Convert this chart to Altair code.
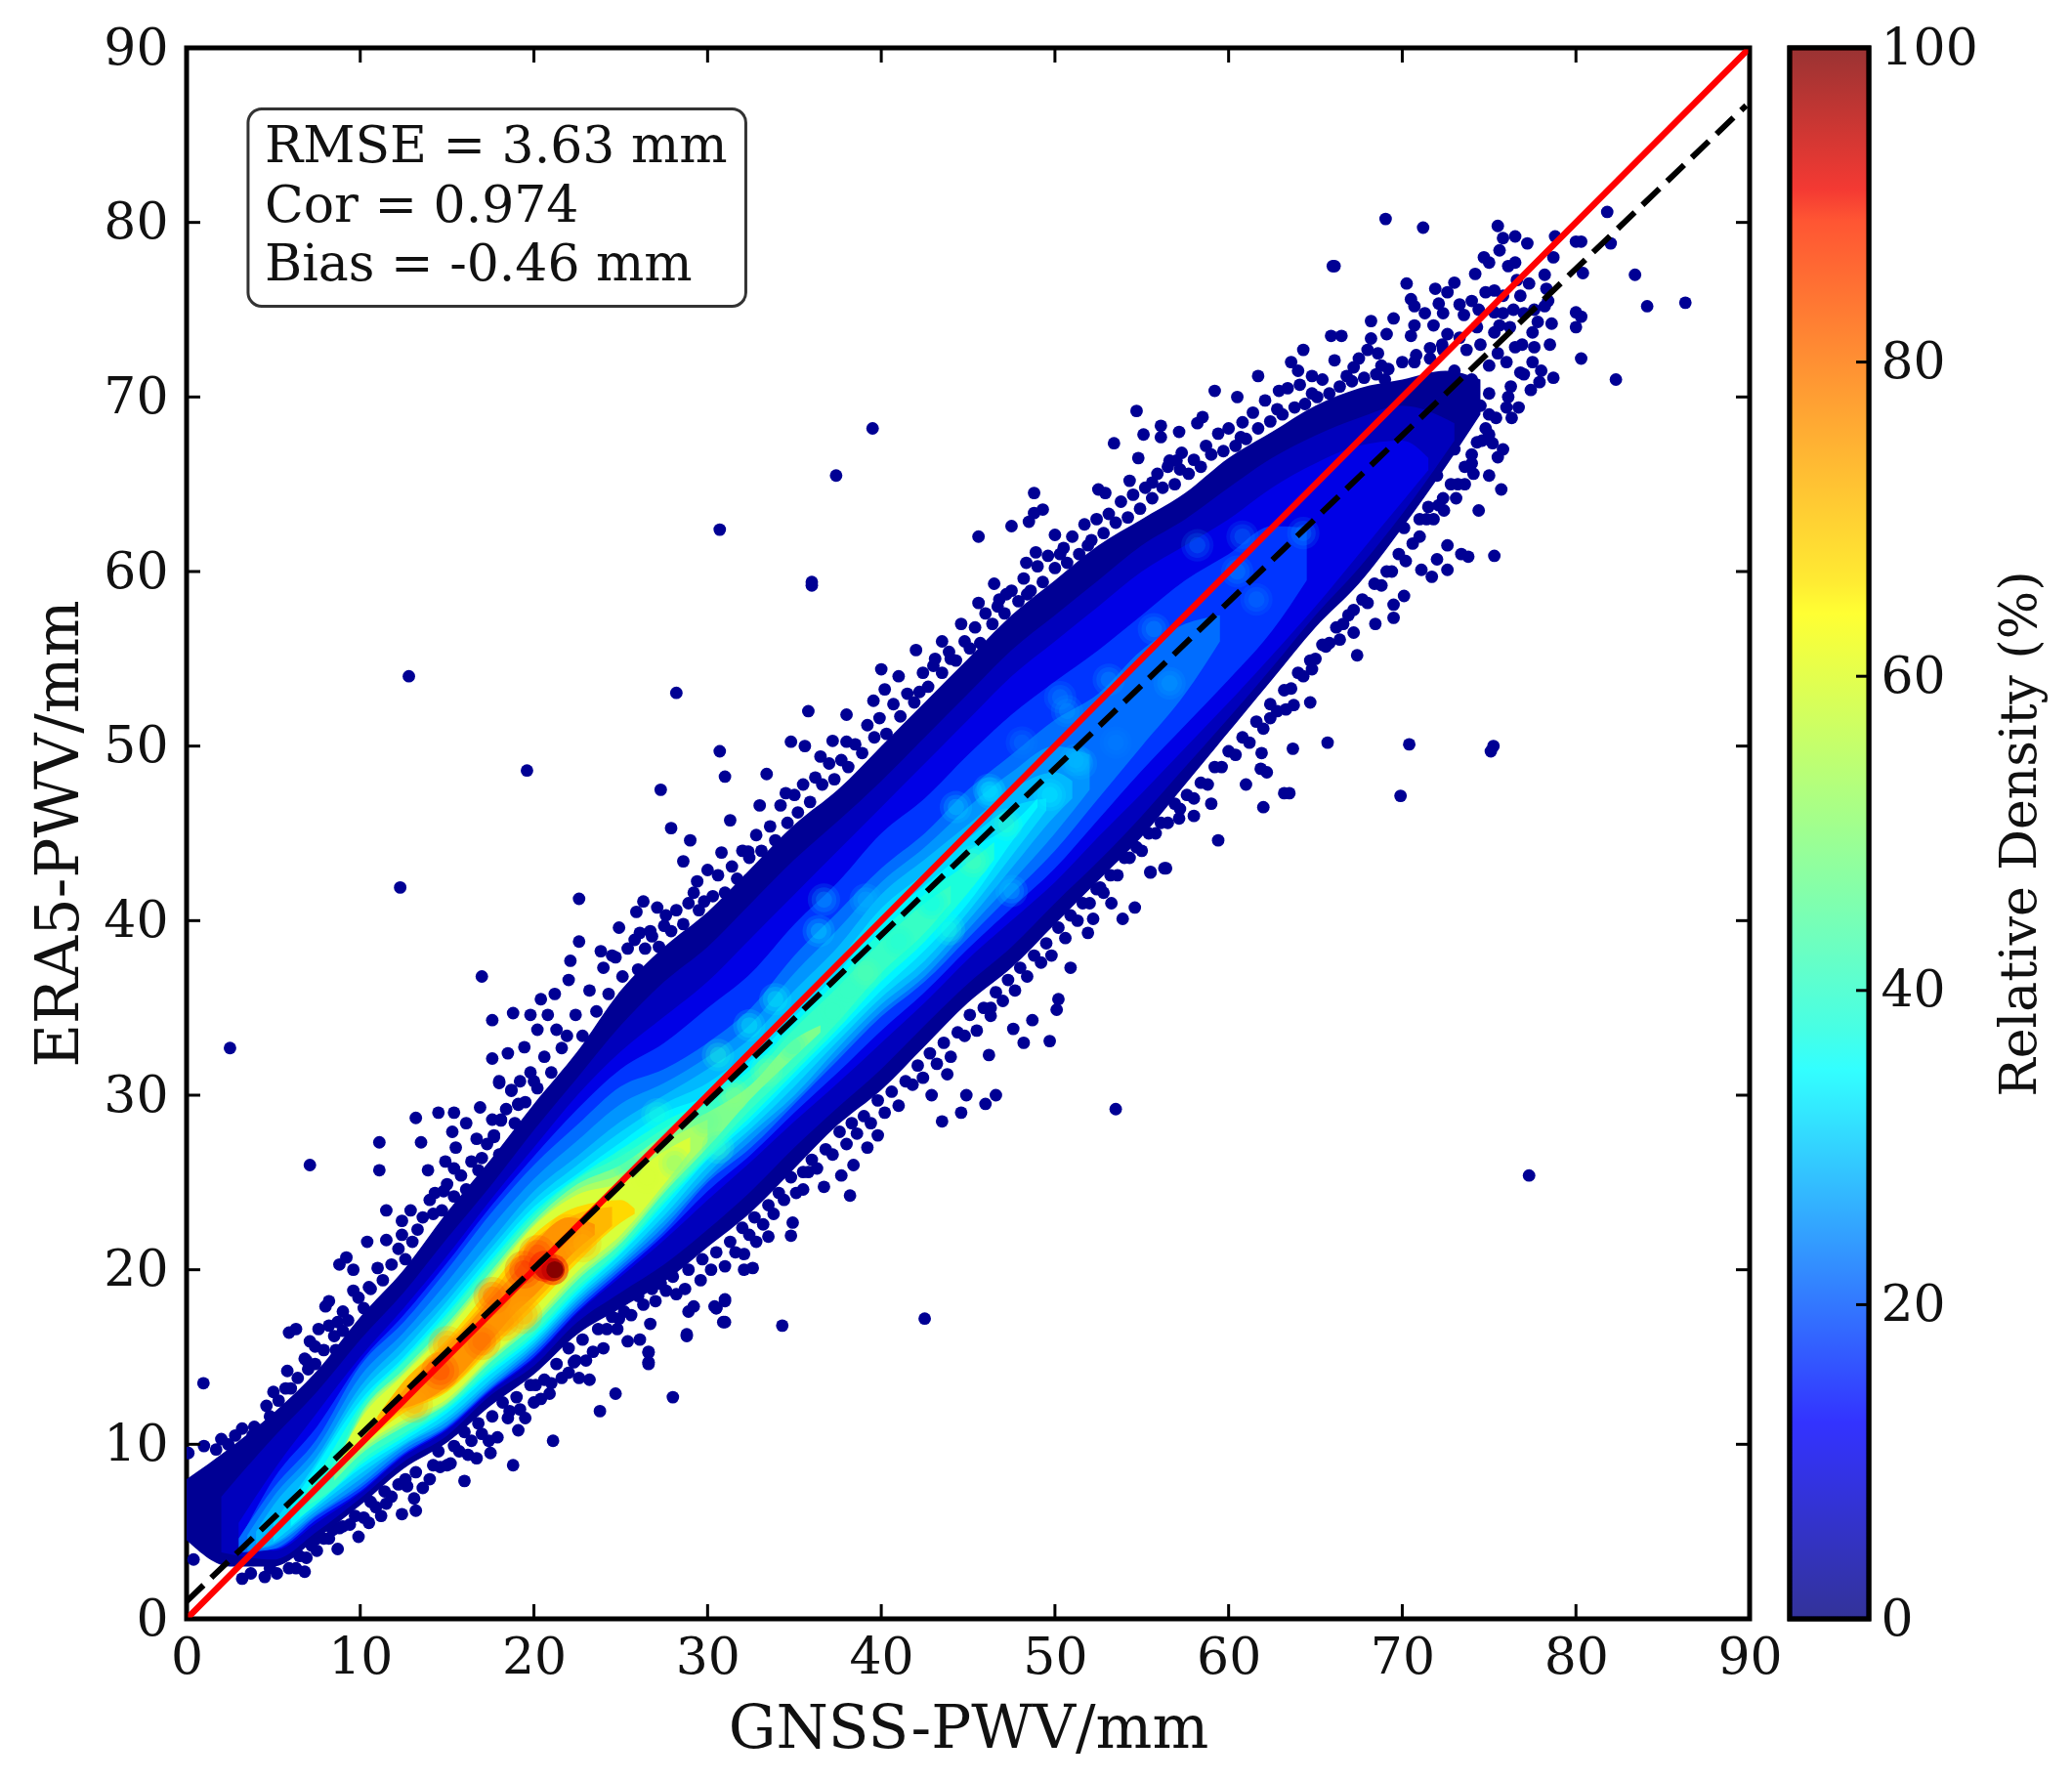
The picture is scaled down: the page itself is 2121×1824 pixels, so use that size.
import altair as alt
import pandas as pd

FONT = "DejaVu Serif"
ticks_main = [0, 10, 20, 30, 40, 50, 60, 70, 80, 90]
ticks_bar = [0, 20, 40, 60, 80, 100]
stats = ["RMSE = 3.63 mm", "Cor = 0.974", "Bias = -0.46 mm"]
stats_x = [4.5, 4.5, 4.5]
stats_y = [83.45, 80.05, 76.7]

jet_v = [0, 11, 12.5, 34, 35, 37.5, 64, 66, 89, 91, 100]
jet_c = ["#000080", "#0000f1", "#0000ff", "#00f5ff", "#00ffff", "#19ffde", "#ffff00", "#ffe600", "#ff2b00", "#f10800", "#800000"]

bands = [
 (2, [(0,4.5,8),(2.5,3,9.8),(5,3,11.8),(7.5,4.6,14.2),(10,6.5,17.3),(12.5,8.6,20),(15,10.1,23.3),(17.5,12.2,26.3),(20,14,29.5),(22.5,16.3,32.5),(25,17.8,36),(27.5,19.3,38.5),(30,21.3,40.5),(32.5,23.3,43),(35,25.8,45.5),(37.5,28.3,47.5),(40,30.3,50),(42.5,32.8,52.5),(45,35.3,55),(47.5,37.3,57.5),(50,39.8,59.5),(52.5,42.3,61.5),(55,44.8,63),(57.5,47.8,64.5),(60,50.8,66.5),(62.5,53.8,68),(65,56.8,69.5),(67.5,59.3,70.5),(70,62.5,71),(72.5,66,71.5),(74.5,69,71)]),
 (6, [(2,3.8,7),(5,3.4,10.4),(7.5,5,13),(10,6.9,16),(12.5,9,18.7),(15,10.5,21.8),(17.5,12.8,24.8),(20,14.5,28),(22.5,17,31),(25,18.7,34),(27.5,20.3,36.5),(30,22.3,38.5),(32.5,24.5,41),(35,27,43.5),(37.5,29.3,45.7),(40,31.5,48),(42.5,34,50.5),(45,36.4,53),(47.5,38.5,55.5),(50,41,57.5),(52.5,43.4,59.5),(55,46,61.5),(57.5,48.8,63),(60,51.6,64.8),(62.5,54.5,66.5),(65,57.5,67.8),(67.5,60.2,68.8),(70,63.3,69.5),(73,67.5,68.5)]),
 (10, [(3,4.4,5.5),(5,3.9,8.5),(7.5,5.5,11.8),(10,7.2,15),(12.5,9.3,17.8),(15,10.8,20.8),(17.5,13,24),(20,14.9,27),(22.5,17.5,30),(25,19.6,32.5),(27.5,21.7,34.5),(30,24,36.5),(32.5,26.2,39),(35,28.5,41.5),(37.5,30.7,44),(40,33,46.5),(42.5,35.3,49),(45,37.8,51.5),(47.5,40,54),(50,42.2,56),(52.5,44.8,58),(55,47.3,60),(57.5,49.9,61.5),(60,52.5,63),(62.5,55.2,64.8),(65,58,66.2),(67.5,61,67.2),(70,64,67.5),(71.5,65.8,66.5)]),
 (14, [(3.2,4,4.8),(5,4,8),(7.5,5.7,11),(10,7.3,14.7),(12.5,9.4,17.4),(15,10.9,20.4),(17.5,13.1,23.6),(20,15,26.5),(22.5,17.6,29.2),(25,19.8,31.5),(27.5,22,33),(30,24.5,35),(32.5,26.6,37),(35,29,39.8),(37.5,31.3,42.2),(40,33.7,45),(42.5,35.9,47),(45,38.4,49.5),(47.5,40.7,51.8),(50,43,53.7),(52.5,45.8,55.5),(55,48.6,57.5),(57.5,51.2,59.5),(60,53.8,61),(62.5,56.6,62.6),(64.5,59.5,62.5)]),
 (18, [(3,3.8,4.6),(5,4,7.5),(7.5,5.9,10.3),(10,7.5,14.5),(12.5,9.5,17),(15,11,20),(17.5,13.2,23.2),(20,15.2,26),(22.5,17.8,28.3),(25,20,30.5),(27.5,22.2,31.5),(30,25,33),(32.5,27,35),(35,29.5,38),(37.5,32,40.5),(40,34.5,43),(42.5,36.5,45),(45,39,47.5),(47.5,41.5,49.5),(50,44,51.5),(52.5,47,53),(55,50,55.5),(57.5,53,57),(59.5,56,57.5)]),
 (22, [(3.5,3.9,4.8),(5,4.2,7),(7.5,6,9.8),(10,7.7,13.9),(12.5,9.7,16.4),(15,11.1,19.3),(17.5,13.3,22.4),(20,15.4,25.2),(22.5,18,27.4),(25,20.2,29.5),(27.5,22.5,30.7),(30,25.2,32.2),(32.5,27.4,34.1),(35,29.7,37),(37.5,32.3,39.5),(40,34.8,42.2),(42.5,36.8,44.2),(45,39.5,46.5),(47.5,42.2,48.5),(50,45,50),(52,47.5,49.5)]),
 (26, [(4,4,5),(5,4.3,6.5),(7.5,6.2,9.3),(10,8,13.3),(12.5,9.9,15.9),(15,11.3,18.6),(17.5,13.5,21.6),(20,15.6,24.5),(22.5,18.2,26.5),(25,20.4,28.5),(27.5,22.8,30),(30,25.5,31.5),(32.5,27.8,33.3),(35,30,36),(37.5,32.7,38.5),(40,35.2,41.5),(42.5,37.2,43.5),(45,40,45.5),(47.5,43,47.5),(50,46,48.5),(51,47,48)]),
 (30, [(5,4.4,5.5),(7.5,6.4,9),(10,8.3,12.9),(12.5,10,15.4),(15,11.5,18.2),(17.5,13.7,21.2),(20,15.8,24),(22.5,18.4,26),(25,20.6,27.9),(27.5,23.1,29.5),(30,25.9,30.7),(32.5,28.1,32.6),(35,30.5,35.2),(37.5,33.1,37.7),(40,35.6,40.7),(42.5,37.7,42.7),(45,40.5,44.7),(47.5,43.7,46.5),(49.5,46.3,47)]),
 (34, [(6,5.3,6.5),(7.5,6.6,8.8),(10,8.6,12.5),(12.5,10.2,15),(15,11.8,17.8),(17.5,14,20.8),(20,16,23.6),(22.5,18.6,25.5),(25,20.9,27.3),(27.5,23.5,29),(30,26.3,30),(32.5,28.5,32),(35,31,34.5),(37.5,33.5,37),(40,36,40),(42.5,38.3,42),(45,41,44),(47.5,44.5,45.5),(49,46.5,47)]),
 (38, [(6.5,5.8,6.8),(8,7,9),(10,8.8,12.2),(12.5,10.4,14.8),(15,12,17.5),(17.5,14.2,20.5),(20,16.2,23.3),(22.5,18.8,25.3),(25,21,26.9),(27.5,23.8,28.5),(30,26.4,29.7),(32.5,28.8,31.5),(35,31.3,34.1),(37.5,33.8,36.6),(40,36.5,39.4),(42.5,38.8,41.5),(45,41.6,43.3),(46.5,43.5,44.5)]),
 (42, [(7,6.5,7.3),(8.5,7.5,9),(10,9,12),(12.5,10.6,14.7),(15,12.1,17.3),(17.5,14.4,20.3),(20,16.4,23.1),(22.5,19,25.2),(25,21.2,26.5),(27.5,24,28.1),(30,26.6,29.5),(32.5,29.2,31.1),(35,31.6,33.8),(37.5,34.2,36.2),(40,37,38.8),(42.5,39.3,41),(44,41,42)]),
 (50, [(8.5,7.9,8.5),(10,9.4,11.7),(12.5,11,14.3),(15,12.3,16.9),(17.5,14.7,19.9),(20,16.8,22.8),(22.5,19.4,24.9),(25,21.5,26),(27.5,24.4,27.7),(30,27,29),(32.5,29.8,30.6),(35,32.2,33.2),(36.5,33.6,34)]),
 (55, [(9,8.7,9.3),(10,9.6,11.5),(12.5,11.2,14.1),(15,12.4,16.7),(17.5,14.9,19.7),(20,17,22.6),(22.5,19.6,24.6),(25,21.7,25.5),(27.5,24.6,27.3),(30,27.3,28.6)]),
 (60, [(9,9,9.7),(10,9.8,11.4),(12.5,11.4,14),(15,12.6,16.5),(17.5,15,19.5),(20,17.2,22.5),(22.5,19.9,24.3),(25,22,25),(27.5,24.9,26.8),(29,26.8,27.6)]),
 (68, [(10.5,10.3,10.9),(12.5,11.8,13.6),(15,13,16),(17.5,15.4,19),(20,17.8,22),(22.5,20.4,23.6),(25,22.7,24),(25.8,23.2,23.5)]),
 (73, [(11,10.8,11.6),(12.5,12,13.6),(15,13.1,15.8),(17.5,15.6,18.6),(20,18.1,21.7),(22.5,20.7,23.2),(24.5,22.5,23.6)]),
 (78, [(12,12,12.5),(13,12.2,13.7),(15,13.3,15.6),(17.5,15.9,18.3),(19,17.6,20),(20,18.5,21.4),(22,20.7,23),(23.5,22,22.6)]),
]

blob_big = [(26.5,25.3,60),(28.1,26.1,50),(30.6,27,42),(25.4,26.1,42),(27.1,28.9,38),(29.9,28.5,48),(31.5,30,52),(33.4,31.4,50),(30.6,32.3,38),(32.4,34,36),(33.9,35.5,36),(34.9,32.8,42),(37.2,34.8,42),(39.1,37,46),(38.1,36,42),(41,38.8,38),(43.9,39.5,38),(42.9,41,36),(45.3,43.4,46),(47.2,45.5,42),(46.2,47.5,32),(44.3,46.5,30),(36.7,41.2,26),(39.1,41.2,26),(36.4,39.4,32),(49.7,47.2,34),(47.5,41.7,28),(50.7,52,24),(51.2,49.2,28),(58.2,61.5,20),(60.8,62,20),(64.3,62.2,22),(61.6,58.4,20),(60.5,60,22),(55.7,56.7,24),(53.1,53.8,24),(56.6,53.6,24),(50.3,52.8,22),(51.5,49,26),(46.3,47.3,32),(48.1,50.2,20),(53.5,50.2,20)]
blob_hot = [(13.1,12.3,76),(15,15.7,78),(14.6,14.2,88),(17,15.9,84),(18.3,17,78),(19.4,17.4,76),(17.6,18.5,85),(22.8,21.5,74),(21.9,22.1,78),(19.4,20,90),(20.2,20.9,88)]
peak_halo = [(21.1,20,90),(20.6,20.2,90)]
peak_mid = [(21.1,20,96),(20.7,20.1,94)]
peak_core = [(21.2,20,100)]

outliers = [(0.97,13.5),(2.5,32.7),(7.1,26),(12.3,41.9),(12.8,54),(19.6,48.6),(28.2,53.05),(17,36.8),(30.7,62.4),(36,59.4),(36,59.2),(39.5,68.2),(37.4,65.5),(27.3,47.5),(30.7,49.7),(22.6,41.25),(42.5,17.2),(34.3,16.8),(28,12.7),(53.5,29.2),(77.3,25.4),(69.9,47.15),(70.4,50.1),(75.25,50),(75.1,49.7),(65.7,50.2),(63.7,49.85),(86.3,75.4),(84.1,75.2),(83.4,77),(82.3,71),(81.8,80.6),(69.04,80.2),(71.2,79.7),(66,77.5),(66.1,77.5),(75.5,79.8)]

fringe_low_left = [(3.2,2.3),(4.5,2.4),(5.2,2.6),(6.8,2.7),(6.3,2.9),(6.9,3.5),(8.7,4),(9.9,4.7),(11.2,5.9),(12.4,6),(13.2,6.2),(12.7,7.6),(16,7.9),(14.6,8.7),(13.1,6.9),(18.8,8.8),(21.1,10.2),(23.8,11.9),(24.7,12.9),(17.5,9.5),(16.2,9.4),(16.7,9.2),(19.1,10.8),(19.5,11.5),(18.5,11.5),(22.6,13.8),(23.2,13.7),(22,14.1),(20.1,13.4),(21,13.5),(25.4,15.9),(26.1,16),(28.8,16.3),(26.6,15.3),(26.6,14.7),(24.8,16.6),(23,14.8),(30.9,17),(30.4,17.9),(31,18.3),(28.9,17.6),(29.2,17.9),(26.7,16.9),(31,17),(28.8,16.2),(26.6,15.25),(26.6,14.6),(30.5,17.8),(10.5,5.5),(11.5,6.6),(14,8),(15.2,8.9),(7.5,3.9),(8.2,4.6),(9,5.3),(17.4,10.2),(20,12.4),(22.3,14.7),(24,15.5)]
fringe_up_left = [(1.7,9.7),(2.8,10.5),(3.9,11),(4.3,10.8),(0.1,9.5),(0.75,7.9),(1.5,8),(0.4,6.5),(0.2,5.3),(0.4,3.4),(1.1,4.6),(5.7,13.2),(5.8,14.2),(5.9,16.4),(6.3,16.6),(7.6,16.6),(7.1,15.9),(7.4,15.6),(6.9,14.8),(8.6,15.4),(8,17.9),(8.2,18.2),(9,17.6),(8.7,17),(8.8,20.3),(9.2,20.7),(9.6,20),(10.4,21.6),(11.5,21.7),(10.5,19),(11.5,23.4),(12.9,23.4),(12.4,22.8),(12.4,22),(11.1,25.7),(11.1,27.3),(13.5,27.3),(13.2,28.7),(14.5,29),(15.4,29),(16.9,29.3),(16.1,28.4),(15.3,27.9),(17.7,27.7),(18.1,28.6),(18,30.8),(18.7,30.3),(19.1,29.5),(13.9,25.7),(14.9,26.2),(14.3,24.4),(14.8,24.5),(15.4,24.2),(16.7,27.5),(15.5,27),(20,30.8)]
fringe_up_mid = [(31,48.25),(35.8,52),(38,51.8),(27.9,45.3),(29,44.6),(31.3,45.75),(33.4,48.4),(34.8,50.25),(35.6,50),(22.6,38.8),(24.9,39.6),(26.1,39.3),(26.7,39.4),(27.5,39.7),(26.3,41.1),(27.1,40.75),(25.9,40.5),(22.1,37.7),(23.85,38.25),(24.5,38),(22,36.6),(21.2,35.8),(20.4,35.5),(18.8,34.7),(19.8,34.6),(17.6,34.3),(20.8,34.6),(18.5,32.4),(17.6,32.1),(19.45,32.75),(20.2,33.75),(21.3,33.75),(18,30.7),(18.7,30.25),(19.1,29.45),(18.1,28.55),(17.7,27.6),(28.6,43.4),(30,42.9),(30.8,43.9),(32.35,43.95),(29.4,42.25),(28.9,41),(33,46.6),(34.5,47.3),(36.5,49.4),(37.2,50.3),(38,50.25),(39.55,52.6),(40.2,53.25),(42.2,53.1),(41,54),(42,55.5),(43.5,56),(44.6,57),(40,54.4),(43,54.6),(44,55)]
fringe_low_mid = [(31,18.2),(30.5,17.8),(38.2,24.25),(35.5,24.6),(34.9,22.7),(34.8,21.95),(33.5,21.9),(32.8,21.6),(32.6,20.1),(32.1,20),(32.1,20.9),(38.4,26),(39.2,27),(39.8,27.7),(36.7,24.75),(37.7,25.4),(43.5,28.5),(44.6,29),(46,29.5),(46.6,30),(44.9,30),(42.9,30),(43.8,31.2),(46.2,32.3),(49.7,33.1),(48.2,33),(50.1,34.9),(50.2,35.5),(48.7,34.3),(47.6,33.8),(46.3,34.55),(50.9,37.3),(51.9,39.3),(52.2,40.1),(53.9,40.1),(54.6,40.75),(53.25,41),(55.5,42.75),(56.4,43),(52.6,41.9)]
fringe_upper_end = [(48.8,64.5),(49.3,63.55),(48.8,63.35),(48.5,62.85),(47.5,62.6),(52.5,64.7),(52.9,64.5),(54.3,65.2),(55.6,65.1),(53.4,67.35),(54.8,66.5),(55.1,67.85),(56.1,68.35),(56.1,67.7),(57.15,68),(56.6,66.35),(57,66.35),(57.2,65.85),(58.5,68.85),(58.2,68.5),(60.8,68.55),(50,62.1),(48.9,61.1),(50.5,61.35),(51.9,61.5),(48.35,60.5),(46.5,59.3),(47.2,58.7),(46.7,58),(48.4,58.7),(45.6,58.2),(45.6,62),(54.7,69.2),(59.2,70.35),(60.5,70),(61.7,71.2),(62.9,70.35),(63.6,72),(64,71.5),(64.3,72.7),(64.8,71.2),(65.9,73.5),(66.5,73.5),(67.2,71.7),(68.2,74.35),(68.2,73.35),(68.6,72.5),(69.1,73.6),(69.5,74.5),(70.25,76.5),(70.5,75.6),(70.7,75.2),(70.5,73.5),(70.7,74.1),(70.7,72),(71.3,74.8),(71.8,74.1),(72.1,75.35),(72.35,74.8),(72.6,73.6),(72.35,72.7),(73,76.55),(73.55,74.7),(73.7,72.7),(74.2,77.05),(74.4,75),(74.7,78),(75,77.7),(75.3,76.1),(75.3,74.85),(75.3,73.7),(75.6,78.4),(75.6,74.1),(75.8,79.1),(76.1,77.5),(76.4,75),(76.5,79.2),(76.5,77.7),(76.6,76.7),(76.5,72.85),(77.2,78.8),(77.3,76.5),(77.5,73.7),(77.6,72.85),(77.5,72),(78.2,77),(78.2,75.2),(78.3,76.2),(78.4,75.5),(78.5,73),(78.7,78),(78.8,79.2),(78.7,71.1),(80,78.9),(80.3,78.9),(80.4,77.1),(80,74.85),(80.3,74.6),(80,74),(80.3,72.2),(82,78.8)]
fringe_lower_end = [(77.9,70.85),(77.4,70.4),(76.25,70.6),(76.7,69.4),(76.3,68.8),(76,69.4),(75,70.2),(75.5,66.55),(75.7,64.7),(74.4,63.5),(75,67.85),(75.2,67.35),(74,66.7),(74.1,65.6),(75,65.5),(73.6,65),(73.1,64.2),(75.3,60.9),(73.4,61),(73.8,60.85),(72.6,60.1),(72.6,61.5),(72,60.7),(71.7,59.7),(71.1,60.1),(70.1,62.5),(71,63),(71.5,63.7),(72.35,64.2),(70.1,58.6),(69.5,58.1),(69.5,57.35),(68.45,57),(67.2,56.5),(66.4,56.1),(67.4,55.2),(64.8,54.4),(65.6,55.7),(64.7,52.5),(63.75,52.35),(63.3,52.1),(62.4,51.6),(61.9,49.6),(61.85,48.7),(62.2,48.5),(61,47.8),(62,46.5),(63.2,47.3),(63.5,47.3),(59,46.7),(59.4,44.6),(58,46),(57.15,45.85),(56.3,43),(55.5,42.8)]
dense_up = [(2,10.3),(3.2,10.9),(4.8,11.6),(5.3,12.5),(6.4,13.8),(7,14.3),(7.9,15.4),(8.5,16.2),(9.3,17.1),(9.9,18.4),(10.6,18.9),(11,20.1),(11.8,20.3),(12.2,21.2),(13,21.6),(13.6,23),(14.2,23.2),(15,24.9),(15.8,25.4),(16.4,26.2),(17,26.4),(17.6,28.6),(18.4,29.2),(19.2,30.8),(19.8,31.3),(20.6,32.2),(21.6,32.7),(22.4,34.6),(23.2,36),(24,37.3),(24.7,37.9),(25.4,38.4),(26,37.2),(26.8,39.1),(27.6,40.3),(28.2,40.6),(29.2,41.6),(29.8,41.1),(30.6,42.6),(31.4,43.1),(32,44),(32.8,44.9),(33.6,45.4),(34.2,46.6),(35,47.2),(35.5,47.8),(36.2,48.2),(37,49),(37.7,49.2),(38.5,50.1),(39.2,51.2),(39.9,51.6),(40.7,52.4),(41.5,53),(42.4,54.2),(43.1,55),(43.9,55.4),(44.8,56),(45.4,56.8),(46,57.6),(46.8,58.4),(47.5,58.9),(48.2,59.6),(49,60.3),(49.6,60.9),(50.3,61),(51,62),(51.7,62.7),(52.4,63),(53.1,63.3),(53.8,64),(54.5,64.4),(55.2,64.8),(55.9,65.6),(56.5,66),(57.3,66.8),(58,66.4),(58.7,67.2),(59.4,67.9),(60,68.2),(60.7,67.7),(61.4,69.1),(62.1,69.8),(62.8,69.3),(63.4,70.5),(64.1,70.7),(64.8,70.2),(65.4,71),(66.1,72.1),(66.8,71.2),(67.5,72.2),(68,72.7),(68.8,71.8)]
dense_low = [(3.7,2.6),(5.9,2.9),(7.2,4.2),(7.9,4.6),(8.4,5.1),(9.4,5.4),(10.2,5.8),(10.9,6.4),(11.8,7),(12.2,7.7),(13.6,7.5),(14.2,8.8),(15,8.8),(15.7,9.6),(16.4,10.2),(17,10.6),(17.9,10.4),(18.6,11.9),(19.2,12),(20.4,12.6),(20.9,12.9),(21.6,13.8),(22.4,14.8),(23.4,15.3),(24.2,16.6),(24.9,17.2),(25.6,17.4),(26.3,18),(27,18.2),(27.6,18.8),(28.2,18.6),(28.7,18.9),(29.6,19.4),(30.2,20),(31,20.2),(31.6,21),(32.4,22),(33.2,22.6),(33.8,23.2),(34.4,24),(35.1,24.4),(35.8,25.6),(36.3,25.8),(37.2,26.6),(38,27.2),(38.6,27.8),(39.4,28.4),(40.2,29),(41,29.4),(41.8,30.6),(42.4,31),(43.2,31.8),(44,32.2),(44.8,33.4),(45.5,33.7),(46.3,35),(47,35.4),(47.7,36),(48.4,36.8),(49.2,37.6),(49.8,38),(50.6,39),(51.3,40),(52,41),(52.8,41.6),(53.6,42.6),(54.3,43.6),(55,44),(55.8,45),(56.5,45.6),(57.2,46.4),(58,47),(58.8,47.8),(59.6,48.8),(60.4,49.5),(61.2,50.2),(62,51),(62.8,52),(63.6,53.3),(64.3,54),(65,55),(65.8,55.9),(66.6,57),(67.2,57.8),(68,58.2),(68.8,59.2),(69.4,60),(70.2,60.6),(71,62),(71.8,63),(72.4,63.5),(73.2,65),(74,66.2),(74.6,67.5),(75.4,68.8),(76.1,70)]
dense_end = [(69,71),(70,70.5),(71,70.5),(72,71),(73,71.5),(74,71),(75,71.8),(76,72),(76.8,71.4),(74.5,69.5),(73.5,68.5),(72.5,68),(71.5,67.5),(75.5,72.5),(74.5,73),(73.3,73.4),(72.3,73),(71.6,72.2),(76.2,74),(77,74.8),(76.8,75.8),(75.8,75.8),(74.8,76),(74,75.5),(73.3,75.3),(72.6,76),(71.9,76.2),(77.6,75),(78.6,74.2),(77.8,74.3),(74.3,74),(75.8,74.8),(76.9,73),(77,71.3),(78,71.5),(72,69.2),(73.2,69.8),(74.8,68.2),(75.8,67),(73,67),(72,65.5)]
dense_up2 = [(1,9.9),(2.4,10),(3.8,10.5),(4.6,12.2),(5,13),(6,13.2),(6.8,14.9),(7.4,14.6),(8.2,16.8),(9,16.5),(9.6,18.8),(10.2,17.8),(11.3,19.4),(12.6,20.6),(13.3,22.3),(14,24),(14.7,23.4),(15.4,25.8),(16.1,24.6),(16.8,25.7),(17.3,27.2),(18,26.6),(18.9,28.4),(19.5,29.6),(20.2,30.4),(21,31.3),(21.9,33.4),(22.8,33.4),(23.6,34.8),(24.3,35.8),(25.1,36.8),(25.8,38.9),(26.4,38.4),(27.2,38.5),(27.9,39.4),(28.6,39.8),(29.5,40.6),(30.3,41.4),(31,41.6),(31.7,42.4),(32.4,43.6),(33.1,44),(33.9,44.6),(34.6,45.6),(35.2,46.2),(35.9,46.8),(36.6,47.8),(37.3,48.1),(38.1,48.8),(38.9,49.6),(39.6,50.5),(40.3,50.7),(41.1,51.7),(41.9,52.5),(42.7,53.4),(43.5,54.2),(44.3,54.9),(45.1,55.6),(45.7,55.9),(46.4,57),(47.1,57.6),(47.9,58.3),(48.6,58.9),(49.3,59.4),(50,60.2),(50.7,60.5),(51.4,61),(52.1,61.8),(52.8,62.2),(53.5,62.8),(54.2,63.1),(54.9,63.6),(55.6,64.2),(56.2,64.8),(56.9,65),(57.7,65.6),(58.4,66),(59,66.7),(59.7,66.9),(60.4,67.2),(61,67.6),(61.7,68.2),(62.4,68.6),(63.1,69),(63.8,69.4),(64.4,69.6),(65.1,70),(65.8,70.2),(66.4,70.6),(67.1,70.9),(67.8,71.1),(68.5,71.3),(69.2,71.6),(70,72),(70.8,72.4),(71.6,72.8)]
dense_low2 = [(4.8,2.9),(6.5,3.6),(7.5,4.6),(8.8,5.2),(9.7,5.9),(10.6,6.7),(11.4,7.3),(12.6,8),(13.2,8.4),(14.5,9.6),(15.4,9.9),(16,10.7),(16.8,11.2),(17.6,11.6),(18.2,12.4),(19,12.7),(19.8,13.4),(20.6,13.7),(21.3,14.6),(22,15.5),(22.8,16),(23.7,16.6),(24.5,17.3),(25.2,17.6),(26,18.5),(26.8,18.9),(27.3,19.2),(28,19.6),(28.9,20),(29.7,20.6),(30.5,21),(31.3,21.6),(32,22.4),(32.7,23),(33.5,23.7),(34.1,24.4),(34.8,25.3),(35.5,25.6),(36,26.3),(36.8,26.9),(37.6,27.9),(38.3,28.4),(39,28.8),(39.8,29.7),(40.6,30.2),(41.4,30.8),(42.1,31.7),(42.8,32.4),(43.6,33),(44.4,33.6),(45.1,34.6),(45.9,35),(46.6,35.9),(47.3,36.6),(48,37.3),(48.8,38),(49.5,38.7),(50.2,39.6),(50.9,40.3),(51.6,41),(52.4,41.8),(53.2,42.6),(54,43.6),(54.7,44.2),(55.4,45),(56.1,45.6),(56.9,46.7),(57.6,47.2),(58.4,47.9),(59.2,48.8),(60,49.7),(60.8,50.5),(61.6,51.4),(62.4,52.4),(63.2,53.2),(64,54.2),(64.7,54.9),(65.4,55.8),(66.2,56.8),(66.9,57.5),(67.7,58.4),(68.4,59.3),(69.1,60),(69.8,61),(70.6,61.6),(71.4,63),(72.1,63.8),(72.8,65),(73.6,66),(74.3,67.4),(75,69)]

box_x, box_x2, box_y, box_y2 = [3.54], [32.2], [75.2], [86.5]
red_x, red_y = [0, 90], [0, 90]
dash_x, dash_y = [0, 89.8], [1.0, 86.7]

scale_c = alt.Scale(domain=jet_v, range=jet_c)
sx = alt.Scale(domain=[0, 90], nice=False, zero=False)
sy = alt.Scale(domain=[0, 90], nice=False, zero=False)
ax_common = dict(values=ticks_main, tickSize=0, domain=False, grid=False, labelFontSize=52, labelFont=FONT, labelColor="#111",
                 titleFont=FONT, titleFontSize=61, titleFontWeight="normal", titleColor="#111")
ax_x = alt.Axis(labelPadding=14, titlePadding=18, labelFlush=False, **ax_common)
ax_y = alt.Axis(labelPadding=19, titlePadding=13, **ax_common)

def xe(f="x"):
    return alt.X(f + ":Q", scale=sx, axis=ax_x, title="GNSS-PWV/mm")

def ye(f="y"):
    return alt.Y(f + ":Q", scale=sy, axis=ax_y, title="ERA5-PWV/mm")

def pts(rows, size=165, opacity=1.0, dens=2):
    df = pd.DataFrame(rows, columns=["x", "y"] if len(rows[0]) == 2 else ["x", "y", "d"])
    if "d" not in df:
        df["d"] = dens
    return alt.Chart(df).mark_circle(size=size, opacity=opacity, clip=True).encode(
        x=xe(), y=ye(), color=alt.Color("d:Q", scale=scale_c, legend=None))

layers = []
all_fringe = (outliers + fringe_low_left + fringe_up_left + fringe_up_mid + fringe_low_mid
              + fringe_upper_end + fringe_lower_end + dense_up + dense_low + dense_end + dense_up2 + dense_low2)
layers.append(pts(all_fringe))
for v, rows in bands:
    df = pd.DataFrame(rows, columns=["x", "lo", "hi"])
    df["d"] = v
    layers.append(alt.Chart(df).mark_area(interpolate="monotone", clip=True).encode(
        x=xe(), y=ye("lo"), y2="hi:Q",
        color=alt.Color("d:Q", scale=scale_c, legend=None)))
for sz, op in [(1100, 0.16), (650, 0.2), (280, 0.25)]:
    layers.append(pts(blob_big, size=sz, opacity=op))
for sz, op in [(1500, 0.2), (850, 0.25), (380, 0.3)]:
    layers.append(pts(blob_hot, size=sz, opacity=op))
layers.append(pts(peak_halo, size=1000, opacity=0.5))
layers.append(pts(peak_mid, size=560, opacity=0.75))
layers.append(pts(peak_core, size=300, opacity=0.9))

layers.append(alt.Chart(pd.DataFrame({"x": red_x, "y": red_y})).mark_line(
    color="#ff0000", strokeWidth=6.5, clip=True).encode(x=xe(), y=ye()))
layers.append(alt.Chart(pd.DataFrame({"x": dash_x, "y": dash_y})).mark_line(
    color="black", strokeWidth=6, strokeDash=[24, 11], clip=True).encode(x=xe(), y=ye()))

box = alt.Chart(pd.DataFrame({"x": box_x, "x2": box_x2, "y": box_y, "y2": box_y2})).mark_rect(
    fill="white", stroke="#333", strokeWidth=3, cornerRadius=14).encode(
    x=xe(), x2="x2:Q", y=ye(), y2="y2:Q")
txt = alt.Chart(pd.DataFrame({"x": stats_x, "y": stats_y, "t": stats})).mark_text(
    font=FONT, fontSize=52, align="left", baseline="alphabetic", color="#111").encode(x=xe(), y=ye(), text="t:N")
layers += [box, txt]

tdf = pd.DataFrame({"t": ticks_main})
TK = dict(color="black", strokeWidth=3)
for a, b in [(0, 15), (1608, 1593)]:
    layers.append(alt.Chart(tdf).mark_rule(**TK).encode(
        x=xe("t"), y=alt.value(a), y2=alt.value(b)))
for a, b in [(0, 14), (1600, 1586)]:
    layers.append(alt.Chart(tdf).mark_rule(**TK).encode(
        y=ye("t"), x=alt.value(a), x2=alt.value(b)))

main = alt.layer(*layers).properties(width=1600, height=1608)

grad = alt.Gradient(gradient="linear", x1=0, y1=1, x2=0, y2=0, stops=[
    alt.GradientStop(offset=v / 100, color=c) for v, c in zip(jet_v, jet_c)])
bar_y = alt.Scale(domain=[0, 100], nice=False, zero=False)
bar_ax = alt.Axis(orient="right", values=ticks_bar, tickSize=0, domain=False, grid=False, labelFontSize=52, labelFont=FONT,
                  labelColor="#111", labelPadding=12, titleFont=FONT, titleFontSize=52, titleFontWeight="normal",
                  titleColor="#111", titleAngle=270, titlePadding=70)
TITLE_BAR = "Relative Density (%)"
def be(f):
    return alt.Y(f + ":Q", scale=bar_y, axis=bar_ax, title=TITLE_BAR)
cdf = pd.DataFrame({"a": [0], "b": [100]})
bar = alt.Chart(cdf).mark_rect(color=grad, opacity=0.8).encode(
    y=be("a"), y2="b:Q", x=alt.value(0), x2=alt.value(81))
frame = alt.Chart(cdf).mark_rect(fill=None, stroke="black", strokeWidth=5, fillOpacity=0).encode(
    y=be("a"), y2="b:Q", x=alt.value(0), x2=alt.value(81))
bar_ticks = alt.Chart(pd.DataFrame({"t": ticks_bar[1:-1]})).mark_rule(**TK).encode(
    y=be("t"), x=alt.value(81), x2=alt.value(68))
colorbar = alt.layer(bar, frame, bar_ticks).properties(width=81, height=1608)

chart = alt.hconcat(main, colorbar, spacing=0).properties(
    padding={"left": 20, "top": 12, "right": 5, "bottom": 5}, background="white"
).configure_view(stroke="black", strokeWidth=5)
chart.save("out.html", embed_options={"renderer": "svg", "actions": False})
